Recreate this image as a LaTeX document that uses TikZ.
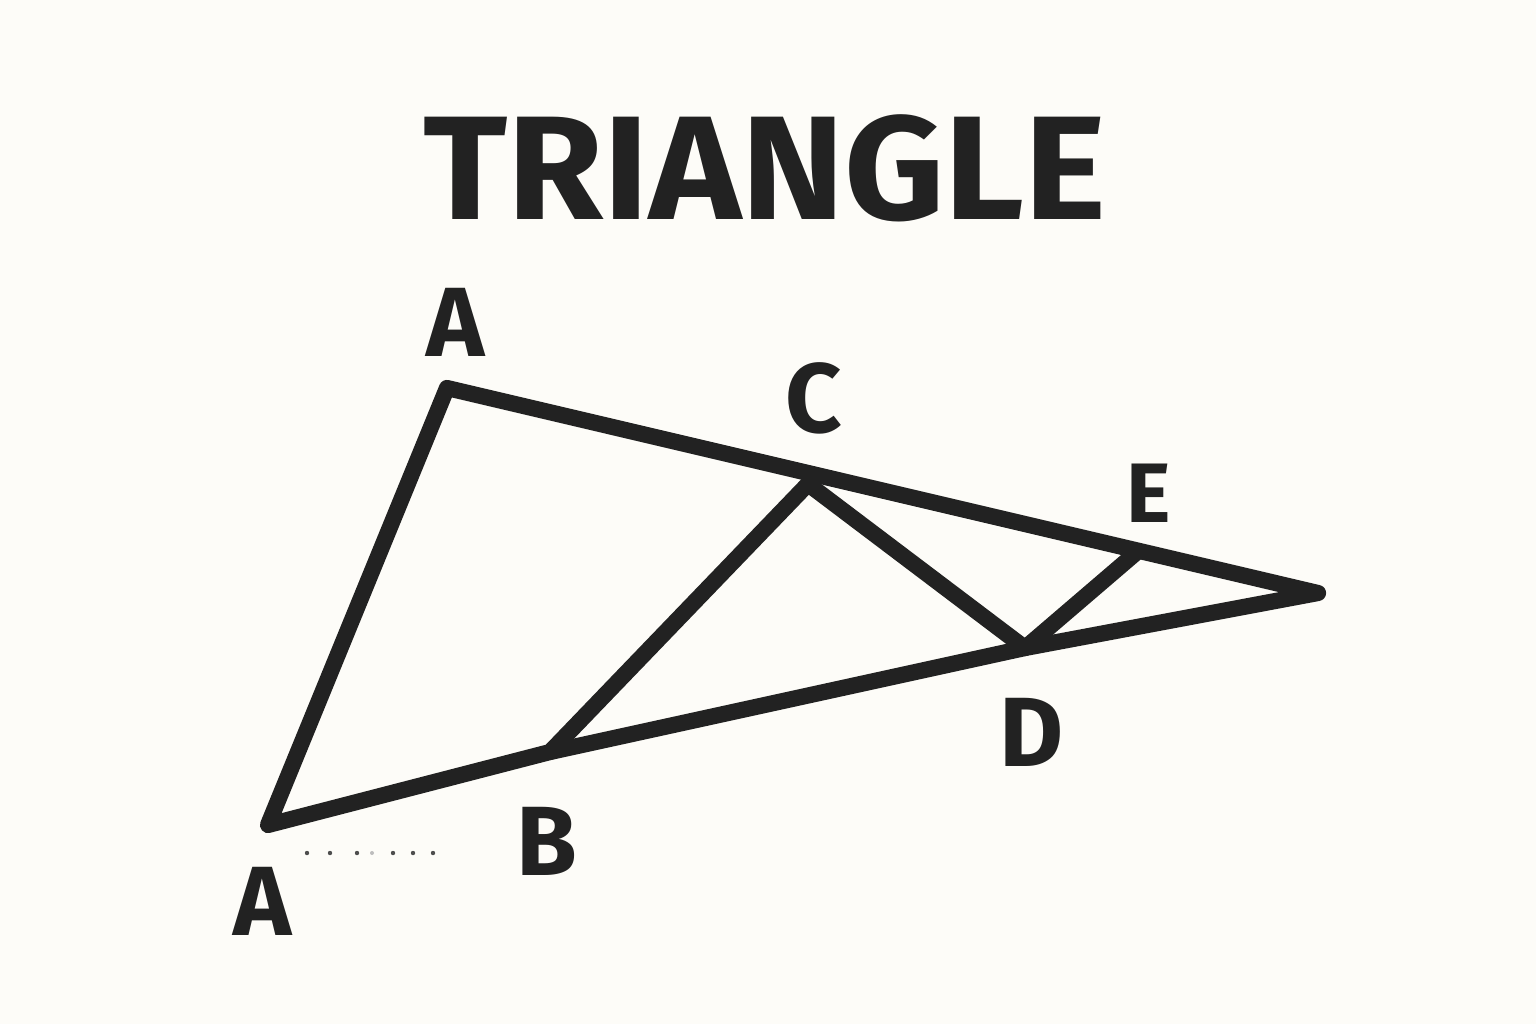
\documentclass[tikz,border=0pt]{standalone}
\usepackage{fontspec}
\setmainfont{Fira Sans}
\begin{document}
\begin{tikzpicture}[x=0.01cm,y=-0.01cm]
\definecolor{ink}{HTML}{222222}
\definecolor{bg}{HTML}{FDFCF8}
\tikzset{
  edge/.style={draw=ink,line width=4.6pt,line cap=round,line join=round},
  lbl/.style={text=ink,font=\bfseries\fontsize{28}{30}\selectfont,inner sep=0pt},
  dotmark/.style={fill=ink!80,draw=none}
}
\fill[bg] (0,0) rectangle (1536,1024);
\useasboundingbox (0,0) rectangle (1536,1024);
\node[text=ink,font=\bfseries\fontsize{42}{44}\selectfont,inner sep=0pt,xscale=1.055] (title) at (765,168) {TRIANGLE};
\coordinate (A) at (447,388);
\coordinate (A2) at (268,825);
\coordinate (R) at (1318,593);
\coordinate (C) at (808,484);
\coordinate (E) at (1137,552);
\coordinate (B) at (550,752);
\coordinate (D) at (1025,648);
\draw[edge] (A2) -- (A) -- (R) -- (D) -- (B) -- cycle;
\draw[edge] (B) -- (C) -- (D) -- (E);
\node[lbl] (la) at (456,322) {A};
\node[lbl] (lc) at (814,398) {C};
\node[lbl,font=\bfseries\fontsize{24}{26}\selectfont] (le) at (1149,493) {E};
\node[lbl] (ld) at (1032,732) {D};
\node[lbl] (lb) at (547,841) {B};
\node[lbl] (la2) at (263,901) {A};
\foreach \x in {307,330,357,393,413,433} \fill[dotmark] (\x,853) circle (2.2);
\fill[ink!30] (372,853) circle (2);
\end{tikzpicture}
\end{document}
